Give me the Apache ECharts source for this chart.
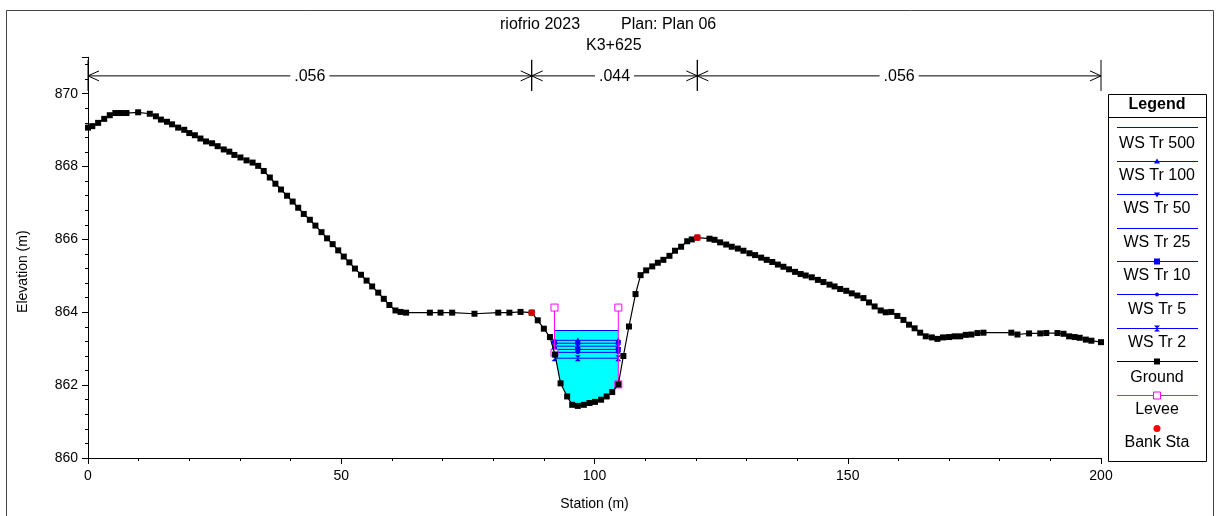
<!DOCTYPE html>
<html>
<head>
<meta charset="utf-8">
<script src="https://cdn.jsdelivr.net/npm/echarts@6/dist/echarts.min.js"></script>
<style>
html,body{margin:0;padding:0;background:#fff;}
#chart{width:1216px;height:516px;}
</style>
</head>
<body>
<div id="chart"></div>
<script>
// ---------------- DATA ----------------
const titleLeft = 'riofrio 2023';
const titleRight = 'Plan: Plan 06';
const sectionName = 'K3+625';

const groundSta = [0,0.85,2.0,3.2,4.3,5.4,6.5,7.6,9.9,12.2,13.4,14.4,15.6,16.6,17.8,19.0,20.0,21.1,22.2,23.3,24.5,25.6,26.8,27.9,28.9,30.1,31.3,32.5,33.6,34.7,35.9,37.0,38.1,39.3,40.4,41.5,42.6,43.8,44.9,46.1,47.2,48.3,49.4,50.5,51.6,52.7,53.9,55.0,56.1,57.3,58.4,59.5,60.7,61.7,62.8,67.5,69.6,71.9,76.3,81.0,83.2,85.4,87.6,88.8,90.0,91.2,92.2,93.3,94.6,95.6,96.7,97.9,99.0,100.1,101.3,102.4,103.5,104.7,105.7,106.8,108.1,109.1,110.2,111.4,112.5,113.6,114.8,115.9,117.1,118.3,119.2,120.3,122.7,123.7,124.8,126.0,127.1,128.3,129.4,130.6,131.7,132.9,134.0,135.1,136.2,137.3,138.4,139.6,140.7,141.7,142.9,144.1,145.2,146.4,147.4,148.5,149.7,150.8,151.9,153.1,154.2,155.3,156.5,157.5,158.6,159.8,161.0,162.1,163.2,164.3,165.4,166.6,167.7,168.8,170.0,171.1,172.2,173.3,174.4,175.6,176.8,182.3,183.5,185.8,188.0,189.2,191.4,192.6,193.7,194.8,195.8,197.0,198.1,200.0];
const groundElev = [869.07,869.11,869.20,869.31,869.41,869.47,869.47,869.47,869.49,869.45,869.38,869.29,869.23,869.16,869.07,869.01,868.92,868.86,868.77,868.69,868.64,868.56,868.47,868.41,868.32,868.25,868.17,868.11,868.02,867.88,867.70,867.53,867.37,867.20,867.04,866.87,866.70,866.54,866.38,866.20,866.03,865.87,865.70,865.53,865.37,865.20,865.03,864.87,864.71,864.54,864.37,864.20,864.05,864.01,863.99,863.99,863.99,863.99,863.96,863.99,863.99,864.01,863.99,863.78,863.55,863.32,862.84,862.05,861.69,861.46,861.43,861.46,861.51,861.54,861.60,861.69,861.81,862.02,862.80,863.61,864.50,865.02,865.15,865.26,865.36,865.44,865.55,865.69,865.80,865.95,866.00,866.05,866.02,865.99,865.92,865.86,865.80,865.75,865.69,865.62,865.57,865.50,865.44,865.38,865.31,865.25,865.18,865.11,865.05,865.01,864.96,864.89,864.83,864.76,864.71,864.64,864.59,864.52,864.46,864.39,864.27,864.16,864.05,864.00,864.01,863.90,863.79,863.66,863.56,863.44,863.34,863.31,863.27,863.31,863.32,863.34,863.34,863.38,863.39,863.43,863.44,863.44,863.39,863.42,863.42,863.43,863.43,863.41,863.34,863.32,863.30,863.25,863.22,863.18];

const bankSta = [87.6, 120.3];
const leveeSta = [92.1, 104.7];
const leveeElev = [864.13, 864.13];

const wsNames = ['WS Tr 500','WS Tr 100','WS Tr 50','WS Tr 25','WS Tr 10','WS Tr 5','WS Tr 2'];
const wsElev = [863.50, 863.23, 863.15, 863.07, 862.98, 862.90, 862.74];
const wsMarkSta = [92.1, 96.7, 104.7];

const nBreaks = [0, 87.6, 120.3, 200];
const nValues = ['.056', '.044', '.056'];
const nLevel = 870.49;

const xTicks = {min: 0, max: 200, interval: 50};
const yTicks = {min: 860, max: 871, interval: 2};

// ---------------- HELPERS ----------------
const FONT = '"Liberation Sans", Arial, sans-serif';
function groundAt(s) {
  for (let i = 0; i < groundSta.length - 1; i++) {
    if (s >= groundSta[i] && s <= groundSta[i + 1]) {
      const t = (s - groundSta[i]) / (groundSta[i + 1] - groundSta[i]);
      return groundElev[i] + t * (groundElev[i + 1] - groundElev[i]);
    }
  }
  return groundElev[groundElev.length - 1];
}
const groundData = groundSta.map((s, i) => [s, groundElev[i]]);
const bankData = bankSta.map(s => [s, groundAt(s)]);

// water polygon for highest profile, bounded by levees
const ws0 = wsElev[0];
const waterPoly = [[leveeSta[0], ws0], [leveeSta[1], ws0], [leveeSta[1], groundAt(leveeSta[1])]];
for (let i = groundSta.length - 1; i >= 0; i--) {
  if (groundSta[i] > leveeSta[0] && groundSta[i] < leveeSta[1]) waterPoly.push([groundSta[i], groundElev[i]]);
}
waterPoly.push([leveeSta[0], groundAt(leveeSta[0])]);

const wsSymbols = ['none', 'triangle', 'triangle', 'path://M0,0L10,10M10,0L0,10', 'rect', 'circle', 'path://M0,0L10,0L0,10L10,10Z'];
const wsRotate = [0, 0, 180, 0, 0, 0, 0];
const wsSize = [0, 6, 6, 5, 5, 4, 6];
const BLUE = '#0000ff';

const series = [];
series.push({
  type: 'custom', name: 'water', z: 1, silent: true,
  data: waterPoly, encode: {x: 0, y: 1},
  renderItem: function (params, api) {
    if (params.dataIndex !== 0) return null;
    return {type: 'polygon', shape: {points: waterPoly.map(p => api.coord(p))}, style: {fill: '#00ffff', stroke: null}};
  }
});
wsNames.forEach((n, i) => {
  series.push({
    type: 'line', name: n, z: 3, silent: true,
    data: wsMarkSta.map(s => [s, wsElev[i]]),
    symbol: wsSymbols[i], symbolSize: wsSize[i], symbolRotate: wsRotate[i], showSymbol: i > 0,
    itemStyle: {color: BLUE, borderColor: BLUE, borderWidth: i === 3 ? 1.2 : 0},
    lineStyle: {color: BLUE, width: 1}
  });
});
leveeSta.forEach((s, i) => {
  series.push({
    type: 'line', name: 'Levee', z: 4, silent: true,
    data: [[s, groundAt(s)], [s, leveeElev[i]]],
    symbol: 'rect', symbolSize: 7, showSymbol: true,
    itemStyle: {color: '#fff', borderColor: '#ff00ff', borderWidth: 1},
    lineStyle: {color: '#ff00ff', width: 1}
  });
});
series.push({
  type: 'line', name: 'Ground', z: 5, silent: true,
  data: groundData, symbol: 'rect', symbolSize: 6, showSymbol: true,
  itemStyle: {color: '#000'}, lineStyle: {color: '#000', width: 1.2}
});
series.push({
  type: 'scatter', name: 'Bank Sta', z: 6, silent: true,
  data: bankData, symbol: 'circle', symbolSize: 7,
  itemStyle: {color: '#ff0000'}
});
series.push({
  type: 'custom', name: 'manning', z: 7, silent: true, clip: false,
  data: nValues.map((v, i) => [nBreaks[i], nBreaks[i + 1], nLevel]),
  encode: {x: [0, 1], y: 2},
  renderItem: function (params, api) {
    const p1 = api.coord([api.value(0), api.value(2)]);
    const p2 = api.coord([api.value(1), api.value(2)]);
    const y = p1[1];
    const st = {stroke: '#000', lineWidth: 1, fill: null};
    return {
      type: 'group',
      children: [
        {type: 'line', shape: {x1: p1[0], y1: y, x2: p2[0], y2: y}, style: st},
        {type: 'polyline', shape: {points: [[p1[0] + 11, y - 5], [p1[0], y], [p1[0] + 11, y + 5]]}, style: st},
        {type: 'polyline', shape: {points: [[p2[0] - 11, y - 5], [p2[0], y], [p2[0] - 11, y + 5]]}, style: st},
        {type: 'line', shape: {x1: p1[0], y1: y - 16, x2: p1[0], y2: y + 15}, style: st},
        {type: 'line', shape: {x1: p2[0], y1: y - 16, x2: p2[0], y2: y + 15}, style: st},
        {type: 'text', style: {text: nValues[params.dataIndex], x: (p1[0] + p2[0]) / 2, y: y + 1, align: 'center', verticalAlign: 'middle',
          fill: '#000', font: '16px ' + FONT, backgroundColor: '#fff', padding: [0, 4]}}
      ]
    };
  }
});

// ---------------- LEGEND (graphic) ----------------
const LX0 = 1108, LX1 = 1206, LY0 = 94, LY1 = 461, LCX = 1157;
const legendItems = [
  {name: 'WS Tr 500', color: BLUE, sym: null, ly: 127, ty: 144},
  {name: 'WS Tr 100', color: BLUE, sym: 'triUp', ly: 161, ty: 176},
  {name: 'WS Tr 50', color: BLUE, sym: 'triDown', ly: 194, ty: 209},
  {name: 'WS Tr 25', color: BLUE, sym: 'x', ly: 228, ty: 243},
  {name: 'WS Tr 10', color: BLUE, sym: 'square', ly: 261, ty: 276},
  {name: 'WS Tr 5', color: BLUE, sym: 'dot', ly: 294, ty: 310},
  {name: 'WS Tr 2', color: BLUE, sym: 'bow', ly: 328, ty: 343},
  {name: 'Ground', color: '#000', sym: 'square', ly: 361, ty: 378},
  {name: 'Levee', color: '#ff00ff', sym: 'openSquare', ly: 395, ty: 410},
  {name: 'Bank Sta', color: '#ff0000', sym: 'redDot', ly: 428, ty: 443, noLine: true}
];
function symbolGraphic(sym, color, x, y) {
  switch (sym) {
    case 'triUp': return {type: 'polygon', shape: {points: [[x - 3, y + 2], [x + 3, y + 2], [x, y - 3]]}, style: {fill: color}};
    case 'triDown': return {type: 'polygon', shape: {points: [[x - 3, y - 2], [x + 3, y - 2], [x, y + 3]]}, style: {fill: color}};
    case 'x': return {type: 'group', children: [
      {type: 'line', shape: {x1: x - 2.5, y1: y - 2.5, x2: x + 2.5, y2: y + 2.5}, style: {stroke: color, lineWidth: 1.2}},
      {type: 'line', shape: {x1: x + 2.5, y1: y - 2.5, x2: x - 2.5, y2: y + 2.5}, style: {stroke: color, lineWidth: 1.2}}]};
    case 'square': return {type: 'rect', shape: {x: x - 3, y: y - 3, width: 6, height: 6}, style: {fill: color}};
    case 'dot': return {type: 'circle', shape: {cx: x, cy: y, r: 2}, style: {fill: color}};
    case 'bow': return {type: 'polygon', shape: {points: [[x - 3, y - 3], [x + 3, y - 3], [x - 3, y + 3], [x + 3, y + 3]]}, style: {fill: color}};
    case 'openSquare': return {type: 'rect', shape: {x: x - 3.5, y: y - 3.5, width: 7, height: 7}, style: {fill: '#fff', stroke: color, lineWidth: 1}};
    case 'redDot': return {type: 'circle', shape: {cx: x, cy: y, r: 3.5}, style: {fill: color}};
  }
  return null;
}
const graphic = [
  {type: 'rect', shape: {x: 6.5, y: 10.5, width: 1207, height: 600}, style: {fill: null, stroke: '#444', lineWidth: 1}, silent: true},
  {type: 'rect', shape: {x: LX0 + 0.5, y: LY0 + 0.5, width: LX1 - LX0, height: LY1 - LY0}, style: {fill: '#fff', stroke: '#000', lineWidth: 1}, silent: true, z: 10},
  {type: 'line', shape: {x1: LX0, y1: 117.5, x2: LX1 + 1, y2: 117.5}, style: {stroke: '#000', lineWidth: 1}, z: 11},
  {type: 'text', style: {text: 'Legend', x: LCX, y: 105, align: 'center', verticalAlign: 'middle', font: 'bold 16px ' + FONT, fill: '#000'}, z: 11}
];
legendItems.forEach(it => {
  if (!it.noLine) graphic.push({type: 'line', shape: {x1: 1117, y1: it.ly + 0.5, x2: 1198, y2: it.ly + 0.5}, style: {stroke: it.color, lineWidth: 1}, z: 11});
  const sg = it.sym ? symbolGraphic(it.sym, it.color, LCX, it.ly + 0.5) : null;
  if (sg) { sg.z = 12; graphic.push(sg); }
  graphic.push({type: 'text', style: {text: it.name, x: LCX, y: it.ty, align: 'center', verticalAlign: 'middle', font: '16px ' + FONT, fill: '#000'}, z: 11});
});

// ---------------- CHART ----------------
const chart = echarts.init(document.getElementById('chart'), null, {renderer: 'canvas'});
const axisText = {color: '#000', fontSize: 14, fontFamily: FONT};
chart.setOption({
  animation: false,
  backgroundColor: '#fff',
  title: [
    {text: titleLeft, left: 500, top: 17, padding: 0, textStyle: {fontSize: 16, fontWeight: 'normal', color: '#000', fontFamily: FONT}},
    {text: titleRight, left: 621, top: 17, padding: 0, textStyle: {fontSize: 16, fontWeight: 'normal', color: '#000', fontFamily: FONT}},
    {text: sectionName, left: 586, top: 38, padding: 0, textStyle: {fontSize: 16, fontWeight: 'normal', color: '#000', fontFamily: FONT}}
  ],
  grid: {left: 88, right: 115, top: 57.3, bottom: 55, containLabel: false},
  xAxis: {
    type: 'value', min: xTicks.min, max: xTicks.max, interval: xTicks.interval,
    name: 'Station (m)', nameLocation: 'middle', nameGap: 39, nameTextStyle: axisText,
    axisLine: {lineStyle: {color: '#000', width: 1}},
    axisTick: {show: true, length: 6, lineStyle: {color: '#000'}},
    minorTick: {show: true, splitNumber: 5, length: 3, lineStyle: {color: '#000'}},
    splitLine: {show: false},
    axisLabel: Object.assign({margin: 11}, axisText)
  },
  yAxis: {
    type: 'value', min: yTicks.min, max: yTicks.max, interval: yTicks.interval,
    name: 'Elevation (m)', nameLocation: 'middle', nameGap: 58,
    nameTextStyle: Object.assign({padding: [0, 28, 0, 0]}, axisText),
    axisLine: {show: true, lineStyle: {color: '#000', width: 1}},
    axisTick: {show: true, length: 6, lineStyle: {color: '#000'}},
    minorTick: {show: true, splitNumber: 5, length: 3, lineStyle: {color: '#000'}},
    splitLine: {show: false},
    axisLabel: Object.assign({margin: 10, showMaxLabel: false}, axisText)
  },
  series: series,
  graphic: graphic
});
</script>
</body>
</html>
